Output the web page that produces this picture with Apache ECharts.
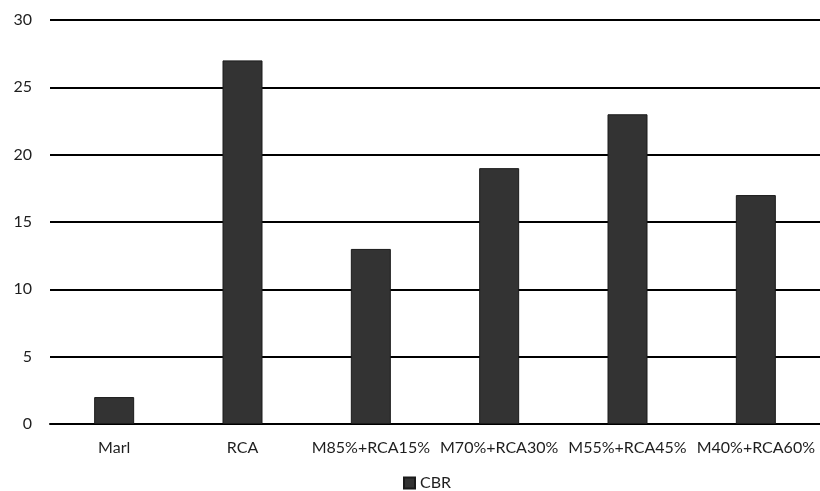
<!DOCTYPE html>
<html>
<head>
<meta charset="utf-8">
<script src="https://cdn.jsdelivr.net/npm/echarts@6/dist/echarts.min.js"></script>
<style>
  html, body { margin: 0; padding: 0; background: #ffffff; }
  #chart { width: 820px; height: 491px; }
</style>
</head>
<body>
<div id="chart"></div>
<script>
// CBR of marl / recycled concrete aggregate mixes
const categories = ['Marl', 'RCA', 'M85%+RCA15%', 'M70%+RCA30%', 'M55%+RCA45%', 'M40%+RCA60%'];
const cbrValues = [2, 27, 13, 19, 23, 17];
const seriesName = 'CBR';

const chart = echarts.init(document.getElementById('chart'), null, { renderer: 'canvas' });
const font = 'Lato, "Open Sans", sans-serif';

chart.setOption({
  animation: false,
  backgroundColor: '#ffffff',
  grid: { left: 50, top: 20, width: 777, height: 404, containLabel: false },
  legend: {
    top: 473,
    left: 401,
    itemWidth: 11,
    itemHeight: 11,
    itemGap: 5,
    padding: [2, 2, 2, 2],
    textStyle: { fontFamily: font, fontSize: 16, color: '#1e1e1e' },
    data: [{ name: seriesName, icon: 'rect' }]
  },
  xAxis: {
    type: 'category',
    data: categories,
    axisLine: { lineStyle: { color: '#000', width: 2 } },
    axisTick: { show: false },
    axisLabel: { fontFamily: font, fontSize: 16, color: '#1e1e1e', margin: 16, interval: 0 }
  },
  yAxis: {
    type: 'value',
    min: 0,
    max: 30,
    interval: 5,
    axisLine: { show: false },
    axisTick: { show: false },
    axisLabel: { fontFamily: font, fontSize: 16, color: '#1e1e1e', margin: 18 },
    splitLine: { lineStyle: { color: '#000', width: 2 } }
  },
  series: [{
    name: seriesName,
    type: 'bar',
    data: cbrValues,
    barWidth: 40,
    itemStyle: { color: '#333333', borderColor: '#1a1a1a', borderWidth: 1 }
  }]
});
</script>
</body>
</html>
